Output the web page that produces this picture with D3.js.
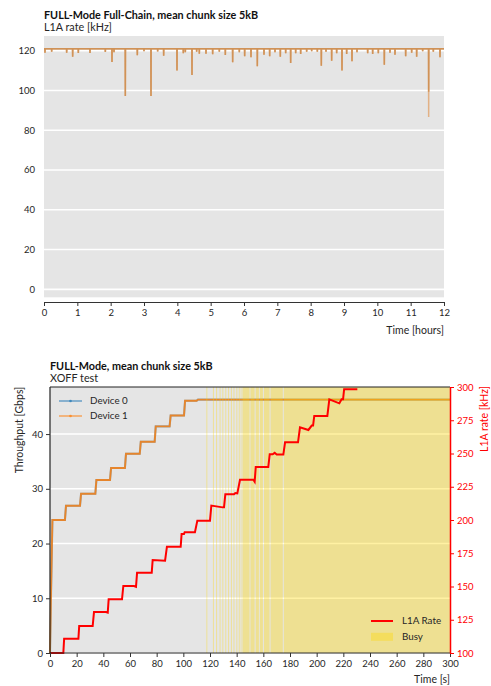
<!DOCTYPE html>
<html><head><meta charset="utf-8">
<script src="https://cdn.jsdelivr.net/npm/d3@7"></script>
<style>
body{margin:0;background:#fff;}
svg{display:block;font-family:Lato,"Open Sans",sans-serif;}
</style></head><body>
<svg id="c" width="491" height="686"></svg>
<script>
// ---------- Top chart data ----------
const topTitle = "FULL-Mode Full-Chain, mean chunk size 5kB";
const topSubtitle = "L1A rate [kHz]";
const hourTicks = [0,1,2,3,4,5,6,7,8,9,10,11,12];
const rateTicks = [0,20,40,60,80,100,120];
const baseRate = 121;
const dipHours = [0.03,0.23,0.68,0.86,1.03,1.38,1.84,2.04,2.10,2.44,2.80,3.00,3.21,3.41,3.59,3.99,4.18,4.24,4.44,4.58,4.66,4.86,5.06,5.26,5.44,5.66,5.86,6.02,6.21,6.40,6.60,6.77,6.93,7.09,7.25,7.40,7.55,7.70,7.88,8.03,8.20,8.32,8.46,8.63,8.78,8.94,9.08,9.24,9.39,9.71,9.86,10.03,10.21,10.38,10.53,10.85,11.03,11.18,11.36,11.54,11.68,11.88];
const dipRate0 = [119.0,119.5,119.0,117.0,118.8,118.8,119.4,114.3,119.3,97.2,117.7,119.8,97.2,119.6,117.5,110.0,118.7,119.3,107.8,119.5,118.5,118.5,118.2,119.5,117.9,114.2,119.3,117.2,116.7,112.2,118.0,117.2,119.2,117.0,118.7,113.8,118.7,118.3,119.5,119.8,119.5,112.5,119.5,115.0,118.7,110.0,118.3,114.7,119.2,118.7,118.3,118.7,113.0,119.0,118.0,117.2,119.0,117.0,119.7,99.4,119.5,116.7];
const dipRate1 = [119.0,119.5,119.0,117.0,118.8,118.8,119.4,114.3,119.3,97.2,117.7,119.8,97.2,119.6,117.5,110.0,118.7,119.3,107.8,119.5,118.5,118.5,118.2,119.5,117.9,114.2,119.3,117.2,116.7,112.2,118.0,117.2,119.2,117.0,118.7,113.8,118.7,118.3,119.5,119.8,119.5,112.5,119.5,115.0,118.7,110.0,118.3,114.7,119.2,118.7,118.3,118.7,113.0,119.0,118.0,117.2,119.0,117.0,119.7,86.7,119.5,116.7];

// ---------- Bottom chart data ----------
const botTitle = "FULL-Mode, mean chunk size 5kB";
const botSubtitle = "XOFF test";
const secTicks = [0,20,40,60,80,100,120,140,160,180,200,220,240,260,280,300];
const gbpsTicks = [0,10,20,30,40];
const khzTicks = [100,125,150,175,200,225,250,275,300];
const tpTime  = [0,0.8,1.8,11.2,12,22.5,23.3,34,34.8,45,45.8,56.2,57,67.3,68.1,78.5,79.3,89.7,90.5,100.5,101.3,110,111,300];
const tpDev0  = [0,11.3,24.3,24.3,26.9,26.9,29.1,29.1,31.6,31.6,33.8,33.8,36.4,36.4,38.6,38.6,41.4,41.4,43.4,43.4,46.1,46.1,46.3,46.3];
const tpDev1  = [0,11.3,24.3,24.3,26.9,26.9,29.1,29.1,31.6,31.6,33.8,33.8,36.4,36.4,38.6,38.6,41.4,41.4,43.4,43.4,46.1,46.1,46.3,46.3];
const l1aTime = [0,10,10.6,21.3,21.9,32,33,42,43.3,44,54,55,63,64.5,65.3,76.3,77,86.3,87.7,98,98.7,100.5,101,108.7,110.5,120,121,129.5,130.5,131.5,138,139,140.5,142.5,152.5,153.5,154.3,163.7,164.8,167,168.5,170,175,176.3,186,187.5,193.8,196.3,197.3,198.2,208,209.5,217,218.7,219.8,220.6,230.5];
const l1aRate = [100,100,110.7,110.7,120.3,120.3,130.8,130.8,130.3,140.4,140.4,150.4,150.4,149.8,160.4,160.4,169.9,169.4,179.9,179.9,189.5,189.5,190.8,190.8,199.5,199.5,210.8,209.5,209.5,219.3,219.3,220.3,220,230.3,230.3,228.8,239.8,239.8,249.4,249.4,250.5,249.2,249.2,258.4,258.4,269.7,267.7,271,271,278.2,278.2,290.7,287.7,290.7,290.7,298.3,298.3];
const busyStart = [117.3,122.2,124.6,127.2,129.3,131.5,133.6,135.7,137.6,139.8,141.6,143.0,144.3,150.3,154.2,157.3,160.4,165.4,175.3];
const busyEnd   = [118.0,122.9,125.3,127.9,130.0,132.2,134.3,136.4,138.3,140.5,142.3,143.6,149.7,153.5,156.7,159.7,164.7,174.6,300];

const svg = d3.select('#c');
const TXT = '#262626';

// ================= TOP CHART =================
{
  const x = d3.scaleLinear().domain([0,12]).range([44,444]);
  const y = d3.scaleLinear().domain([-4,127.4]).range([297.3,36]);
  const g = svg.append('g');
  g.append('rect').attr('x',x(0)).attr('y',y(127.4)).attr('width',x(12)-x(0)).attr('height',y(-4)-y(127.4)).attr('fill','#e5e5e5');
  g.selectAll('.gl').data(rateTicks).join('line')
    .attr('x1',x(0)).attr('x2',x(12)).attr('y1',d=>y(d)).attr('y2',d=>y(d))
    .attr('stroke','#fff').attr('stroke-width',1.6);
  g.selectAll('.yl').data(rateTicks).join('text')
    .attr('x',35).attr('y',d=>y(d)+3.4).attr('text-anchor','end')
    .attr('font-size',9.5).attr('fill',TXT).text(d=>d);
  const ax = g.append('g').attr('transform','translate(0,302)')
    .call(d3.axisBottom(x).tickValues(hourTicks).tickSize(4).tickSizeOuter(0).tickPadding(3));
  ax.select('.domain').attr('stroke','#333');
  ax.selectAll('.tick line').attr('stroke','#333');
  ax.selectAll('text').attr('font-size',9.5).attr('fill',TXT).attr('font-family','Lato');
  g.append('text').attr('x',444).attr('y',334).attr('text-anchor','end').attr('font-size',10.5).attr('fill',TXT).text('Time [hours]');
  g.append('text').attr('x',44).attr('y',19.3).attr('font-size',10.8).attr('font-weight','bold').attr('fill','#111').text(topTitle);
  g.append('text').attr('x',44).attr('y',31).attr('font-size',10.8).attr('fill',TXT).text(topSubtitle);

  const eps = 0.004;
  function series(vals){
    const pts = [[0,baseRate]];
    dipHours.forEach((h,i)=>{ pts.push([h-eps,baseRate],[h,vals[i]],[h+eps,baseRate]); });
    pts.push([12,baseRate]);
    return pts;
  }
  const line = d3.line().x(d=>x(d[0])).y(d=>y(d[1]));
  g.append('path').datum(series(dipRate1)).attr('d',line).attr('fill','none')
    .attr('stroke','#e2b185').attr('stroke-width',1.5);
  g.append('path').datum(series(dipRate0)).attr('d',line).attr('fill','none')
    .attr('stroke','#d09257').attr('stroke-width',1.5);
}

// ================= BOTTOM CHART =================
{
  const x = d3.scaleLinear().domain([0,300]).range([50,450]);
  const yL = d3.scaleLinear().domain([0,48.6]).range([653,387]);
  const yR = d3.scaleLinear().domain([100,300]).range([653,387]);
  const g = svg.append('g');
  g.append('rect').attr('x',50).attr('y',387).attr('width',400).attr('height',266).attr('fill','#e5e5e5');
  g.selectAll('.gl').data(gbpsTicks).join('line')
    .attr('x1',x(0)).attr('x2',x(300)).attr('y1',d=>yL(d)).attr('y2',d=>yL(d))
    .attr('stroke','#fff').attr('stroke-width',1.6);

  const tpLine = d3.line().x((d,i)=>x(tpTime[i])).y(d=>yL(d));
  g.append('path').datum(tpDev0).attr('d',tpLine).attr('fill','none')
    .attr('stroke','#1f77b4').attr('stroke-opacity',0.45).attr('stroke-width',2.1);
  g.append('path').datum(tpDev1).attr('d',tpLine).attr('fill','none')
    .attr('stroke','#f0801a').attr('stroke-opacity',0.9).attr('stroke-width',1.9);

  g.selectAll('.busy').data(busyStart).join('rect')
    .attr('x',d=>x(d)).attr('y',387).attr('width',(d,i)=>x(busyEnd[i])-x(d)).attr('height',266)
    .attr('fill','#ffd700').attr('fill-opacity',0.36);

  const l1aLine = d3.line().x((d,i)=>x(l1aTime[i])).y(d=>yR(d));
  g.append('path').datum(l1aRate).attr('d',l1aLine).attr('fill','none')
    .attr('stroke','#ff0000').attr('stroke-width',2).attr('stroke-linejoin','miter');

  // spines
  g.append('line').attr('x1',50).attr('x2',450).attr('y1',387).attr('y2',387).attr('stroke','#222').attr('stroke-width',1.2);
  g.append('line').attr('x1',50).attr('x2',450).attr('y1',653).attr('y2',653).attr('stroke','#222').attr('stroke-width',1);
  g.append('line').attr('x1',50).attr('x2',50).attr('y1',387).attr('y2',653).attr('stroke','#222').attr('stroke-width',1.2);

  const ax = g.append('g').attr('transform','translate(0,653)')
    .call(d3.axisBottom(x).tickValues(secTicks).tickSize(4).tickSizeOuter(0).tickPadding(3));
  ax.select('.domain').remove();
  ax.selectAll('.tick line').attr('stroke','#333');
  ax.selectAll('text').attr('font-size',9.5).attr('fill',TXT).attr('font-family','Lato');

  const al = g.append('g').attr('transform','translate(50,0)')
    .call(d3.axisLeft(yL).tickValues(gbpsTicks).tickSize(4).tickSizeOuter(0).tickPadding(3));
  al.select('.domain').remove();
  al.selectAll('.tick line').attr('stroke','#333');
  al.selectAll('text').attr('font-size',9.5).attr('fill',TXT).attr('font-family','Lato');

  const ar = g.append('g').attr('transform','translate(450,0)')
    .call(d3.axisRight(yR).tickValues(khzTicks).tickSize(4).tickSizeOuter(0).tickPadding(3));
  ar.select('.domain').attr('stroke','#ff0000').attr('stroke-width',1.5);
  ar.selectAll('.tick line').attr('stroke','#ff0000');
  ar.selectAll('text').attr('font-size',9.5).attr('fill','#ff0000').attr('font-family','Lato');

  g.append('text').attr('transform','translate(23,430) rotate(-90)').attr('text-anchor','middle')
    .attr('font-size',10.5).attr('fill',TXT).text('Throughput [Gbps]');
  g.append('text').attr('transform','translate(488,419) rotate(-90)').attr('text-anchor','middle')
    .attr('font-size',10.5).attr('fill','#ff0000').text('L1A rate [kHz]');
  g.append('text').attr('x',450).attr('y',683).attr('text-anchor','end').attr('font-size',10.5).attr('fill',TXT).text('Time [s]');
  g.append('text').attr('x',50).attr('y',370).attr('font-size',10.8).attr('font-weight','bold').attr('fill','#111').text(botTitle);
  g.append('text').attr('x',50).attr('y',381.7).attr('font-size',10.8).attr('fill',TXT).text(botSubtitle);

  // left legend
  const devLegend = [{name:'Device 0',color:'#1f77b4',y:401},{name:'Device 1',color:'#ff7f0e',y:416}];
  const lg = g.append('g');
  devLegend.forEach(d=>{
    lg.append('line').attr('x1',59).attr('x2',82).attr('y1',d.y).attr('y2',d.y).attr('stroke',d.color).attr('stroke-opacity',0.6).attr('stroke-width',1.6);
    lg.append('circle').attr('cx',70.5).attr('cy',d.y).attr('r',1.3).attr('fill',d.color).attr('fill-opacity',0.7);
    lg.append('text').attr('x',90).attr('y',d.y+3.4).attr('font-size',9.8).attr('fill',TXT).text(d.name);
  });
  // right legend
  const rg = g.append('g');
  rg.append('line').attr('x1',371).attr('x2',393).attr('y1',621).attr('y2',621).attr('stroke','#ff0000').attr('stroke-width',2);
  rg.append('text').attr('x',402).attr('y',624.4).attr('font-size',9.8).attr('fill',TXT).text('L1A Rate');
  rg.append('rect').attr('x',371).attr('y',632.8).attr('width',22).attr('height',8).attr('fill','#ffd700').attr('fill-opacity',0.36);
  rg.append('text').attr('x',402).attr('y',640.4).attr('font-size',9.8).attr('fill',TXT).text('Busy');
}
</script>
</body></html>
